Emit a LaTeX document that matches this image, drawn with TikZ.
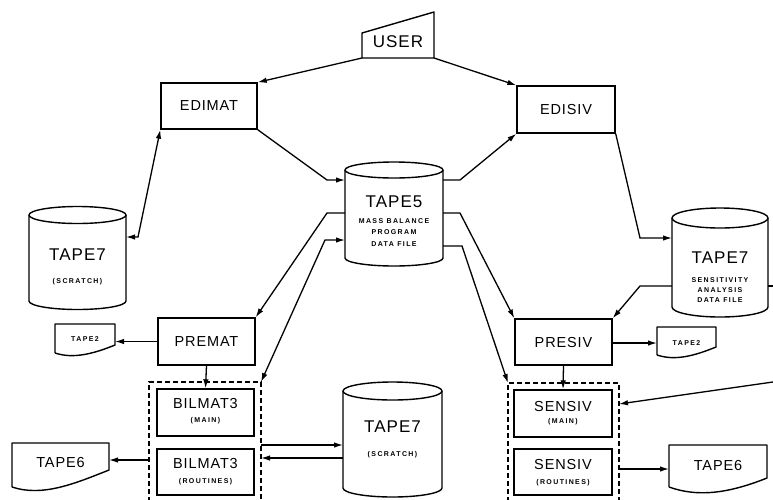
\documentclass[tikz,border=0pt]{standalone}
\usepackage{fontspec}
\setmainfont{Liberation Sans}
\newfontfamily\plotfont[LetterSpace=6]{Liberation Sans}
\newfontfamily\plotsmall[LetterSpace=20]{Liberation Sans}
\usetikzlibrary{arrows.meta,calc}

% cylinder outline drawn on a ghost node: name, x radius, y radius (pt)
\newcommand\tapecyl[3]{%
  \draw[outline] (#1.north west) -- (#1.south west)
    arc[start angle=180, end angle=360, x radius=#2pt, y radius=#3pt] -- (#1.north east);
  \draw[outline] (#1.north) ellipse[x radius=#2pt, y radius=#3pt];}
% document outline with a wavy foot: name, right-corner rise, controls
\newcommand\docwave[6]{%
  \draw[outline] (#1.south west) -- (#1.north west) -- (#1.north east)
    -- ([yshift=#2pt]#1.south east)
    .. controls +(#3,#4) and +(#5,#6) .. (#1.south west);}

\begin{document}
\begin{tikzpicture}[x=1pt, y=-1pt,
  outline/.style={line width=1.4pt, line join=round},
  box/.style={draw, line width=1.4pt, inner sep=0pt},
  ghost/.style={draw=none, inner sep=0pt, outer sep=0pt},
  grpline/.style={line width=1.4pt, dash pattern=on 5pt off 3pt},
  lblbig/.style={font=\plotfont\fontsize{14.5}{15}\selectfont},
  lbltape/.style={font=\plotfont\fontsize{17}{17}\selectfont, inner sep=0pt},
  lbltiny/.style={font=\plotsmall\bfseries\fontsize{7}{7}\selectfont, inner sep=0pt},
  >={Latex[length=9pt,width=5.5pt]},
  flow/.style={line width=1.3pt, ->},
  flowrev/.style={line width=1.3pt, <-},
  flowboth/.style={line width=1.3pt, <->},
  plain/.style={line width=1.3pt}]
\useasboundingbox (0,0) rectangle (773,499);

% user terminal (manual input)
\node[ghost, minimum width=72pt, minimum height=25pt] (user) at (398,45.5) {};
\draw[outline] (user.south west) -- (user.south east)
  -- ([yshift=21pt]user.north east) -- (user.north west) -- cycle;
\node[lbltape] (usertxt) at (398,42) {USER};

% program boxes
\node[box, minimum width=96pt, minimum height=46pt, lblbig] (edimat) at (209,106) {EDIMAT};
\node[box, minimum width=98pt, minimum height=47pt, lblbig] (edisiv) at (566,109.5) {EDISIV};
\node[box, minimum width=97pt, minimum height=47pt, lblbig] (premat) at (206.5,341.5) {PREMAT};
\node[box, minimum width=97pt, minimum height=46pt, lblbig] (presiv) at (563.5,342) {PRESIV};

\node[box, minimum width=97pt, minimum height=47pt] (bilmain) at (205.5,412.5) {};
\node[box, minimum width=97pt, minimum height=46pt] (bilrout) at (205.5,472) {};
\node[box, minimum width=98pt, minimum height=47pt] (sensmain) at (563,413.5) {};
\node[box, minimum width=98pt, minimum height=46pt] (sensrout) at (563,472) {};
\node[lblbig, inner sep=0pt] (bilmaint) at (205.5,403) {BILMAT3};
\node[lbltiny] (bilmains) at (205.5,421) {(MAIN)};
\node[lblbig, inner sep=0pt] (bilroutt) at (205.5,463) {BILMAT3};
\node[lbltiny] (bilrouts) at (205.5,482) {(ROUTINES)};
\node[lblbig, inner sep=0pt] (sensmaint) at (563,406) {SENSIV};
\node[lbltiny] (sensmains) at (563,422) {(MAIN)};
\node[lblbig, inner sep=0pt] (sensroutt) at (563,464) {SENSIV};
\node[lbltiny] (sensrouts) at (563,483) {(ROUTINES)};

% dashed groupings (open at the bottom)
\node[ghost, minimum width=112pt, minimum height=128pt] (bilgrp) at (205,446) {};
\node[ghost, minimum width=111pt, minimum height=127pt] (sensgrp) at (563.5,446.5) {};
\draw[grpline] (bilgrp.south west) -- (bilgrp.north west) -- (bilgrp.north east) -- (bilgrp.south east);
\draw[grpline] (sensgrp.south west) -- (sensgrp.north west) -- (sensgrp.north east) -- (sensgrp.south east);

% tape files (cylinders)
\node[ghost, minimum width=98pt, minimum height=88pt] (t5) at (394,214) {};
\tapecyl{t5}{49}{8}
\node[lbltape] (t5a) at (394,202) {TAPE5};
\node[lbltiny] (t5b) at (394,221) {MASS BALANCE};
\node[lbltiny] (t5c) at (394,232) {PROGRAM};
\node[lbltiny] (t5d) at (394,244) {DATA FILE};

\node[ghost, minimum width=97pt, minimum height=86pt] (t7a) at (77.5,258) {};
\tapecyl{t7a}{48.5}{8.5}
\node[lbltape] (t7aa) at (77.5,255) {TAPE7};
\node[lbltiny] (t7ab) at (77.5,282) {(SCRATCH)};

\node[ghost, minimum width=96pt, minimum height=89pt] (t7b) at (720,262.5) {};
\tapecyl{t7b}{48}{10}
\node[lbltape] (t7ba) at (720,258) {TAPE7};
\node[lbltiny] (t7bb) at (720,280) {SENSITIVITY};
\node[lbltiny] (t7bc) at (720,290) {ANALYSIS};
\node[lbltiny] (t7bd) at (720,300) {DATA FILE};

\node[ghost, minimum width=99pt, minimum height=97pt] (t7c) at (392.5,439.5) {};
\tapecyl{t7c}{49.5}{9}
\node[lbltape] (t7ca) at (392.5,427) {TAPE7};
\node[lbltiny] (t7cb) at (392.5,455) {(SCRATCH)};

% printed outputs (documents)
\node[ghost, minimum width=60pt, minimum height=29pt] (tape2a) at (85,338.5) {};
\docwave{tape2a}{8}{-22}{9}{18}{6}
\node[lbltiny] (tape2at) at (85,339) {TAPE2};
\node[ghost, minimum width=59pt, minimum height=28pt] (tape2b) at (686.5,341) {};
\docwave{tape2b}{8}{-22}{9}{18}{6}
\node[lbltiny] (tape2bt) at (686.5,343) {TAPE2};
\node[ghost, minimum width=97pt, minimum height=44pt] (tape6a) at (60.5,465) {};
\docwave{tape6a}{17}{-35}{14}{30}{10}
\node[lblbig, inner sep=0pt] (tape6at) at (60.5,462) {TAPE6};
\node[ghost, minimum width=98pt, minimum height=42pt] (tape6b) at (718,466) {};
\docwave{tape6b}{9}{-40}{16}{28}{10}
\node[lblbig, inner sep=0pt] (tape6bt) at (718,465) {TAPE6};

% links leaving the frame on the right
\coordinate (offA) at (773,286);
\coordinate (offB) at (773,382);

% connectors
\draw[flow] (user.south west) -- (edimat.north east);
\draw[flow] (user.south east) -- (edisiv.north west);
\draw[flowboth] (t7a.east |- 0,237) -- ++(12,0) -- (edimat.south west);
\draw[flowrev] (t5.west |- 0,180) -- ++(-18,0) -- (edimat.south east);
\draw[flow] (t5.east |- 0,180) -- ++(17,0) -- (edisiv.south west);
\draw[flowrev] (t7b.west |- 0,238) -- ++(-32,0) -- (edisiv.south east);
\draw[flow] (t5.west |- 0,213) -- ++(-18,0) -- (premat.north east);
\draw[flowboth] (t5.west |- 0,240) -- ++(-20,0) -- (bilgrp.north east);
\draw[flow] (t5.east |- 0,213) -- ++(17,0) -- (presiv.north west);
\draw[flow] (t5.east |- 0,246) -- ++(19,0) -- (sensgrp.north west);
\draw[flow] (t7b.west |- 0,286) -- ++(-32,0) -- (presiv.north east);
\draw[plain] (t7b.east |- 0,286) -- (offA);
\draw[flow] (offB) -- (sensgrp.east |- 0,404);
\draw[flow] (premat.west) -- (premat.west -| tape2a.east);
\draw[flow] (premat.south) -- (bilmain.north);
\draw[flow] (bilgrp.west |- 0,460) -- (tape6a.east |- 0,460);
\draw[flow] (bilgrp.east |- 0,445) -- (t7c.west |- 0,445);
\draw[flow] (t7c.west |- 0,458) -- (bilgrp.east |- 0,458);
\draw[flow] (presiv.east |- 0,343) -- (tape2b.west |- 0,343);
\draw[flow] (presiv.south) -- (sensmain.north);
\draw[flow] (sensgrp.east |- 0,469) -- (tape6b.west |- 0,469);
\end{tikzpicture}
\end{document}
